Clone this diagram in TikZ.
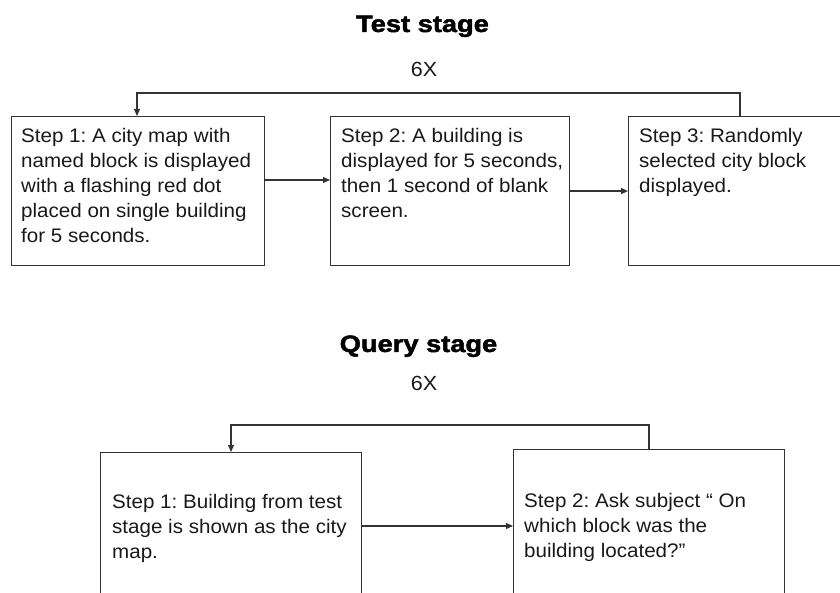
\documentclass[tikz,border=0pt]{standalone}
\usepackage{fontspec}
\setmainfont{Liberation Sans}[FakeStretch=1.05]
\newfontfamily\titlefont{Liberation Sans}[FakeStretch=1.15,FakeBold=2]
\usetikzlibrary{arrows.meta}
\tikzset{
  box/.style={draw=black!80, line width=1.1pt, anchor=north west, inner sep=0pt},
  txt/.style={anchor=base west, inner sep=0pt, font=\fontsize{19.6}{25}\selectfont, text=black!90},
  ttl/.style={anchor=base, inner sep=0pt, font=\titlefont\bfseries\fontsize{23.7}{28}\selectfont},
  rep/.style={anchor=base, inner sep=0pt, font=\fontsize{20.5}{24}\selectfont, text=black!90},
  arr/.style={draw=black!80, line width=1.1pt, -{Triangle[length=7pt,width=6pt]}}
}
\begin{document}
\frenchspacing
\begin{tikzpicture}[x=1pt,y=-1pt]
\useasboundingbox (0,0) rectangle (840,593);
\clip (0,0) rectangle (840,593);
% titles
\node[ttl] (ts) at (422.5,32) {Test stage};
\node[rep] (tn) at (424,77) {6X};
\node[ttl] (qs) at (418.5,352) {Query stage};
\node[rep] (qn) at (424,390) {6X};
% test stage boxes
\node[box, minimum width=253pt, minimum height=149pt] (t1) at (11,116) {};
\node[box, minimum width=239pt, minimum height=149pt] (t2) at (330,116) {};
\node[box, minimum width=300pt, minimum height=149pt] (t3) at (628,116) {};
\node[txt] (t1x) at (21,143) {\parbox[t]{250pt}{Step 1: A city map with\\named block is displayed\\with a flashing red dot\\placed on single building\\for 5 seconds.}};
\node[txt] (t2x) at (341,143) {\parbox[t]{240pt}{Step 2: A building is\\displayed for 5 seconds,\\then 1 second of blank\\screen.}};
\node[txt] (t3x) at (639,143) {\parbox[t]{240pt}{Step 3: Randomly\\selected city block\\displayed.}};
% query stage boxes
\node[box, minimum width=261pt, minimum height=200pt] (q1) at (100,452) {};
\node[box, minimum width=271pt, minimum height=200pt] (q2) at (513,449) {};
\node[txt] (q1x) at (112,508) {\parbox[t]{260pt}{Step 1: Building from test\\stage is shown as the city\\map.}};
\node[txt] (q2x) at (524,507) {\parbox[t]{260pt}{Step 2: Ask subject “ On\\which block was the\\building located?”}};
% connectors
\draw[arr] (t1.east |- 0,180) -- (t2.west |- 0,180);
\draw[arr] (t2.east) -- (t3.west);
\draw[arr] (t3.north -| 740,0) |- (137,93) -- (t1.north -| 137,0);
\draw[arr] (q1.east |- 0,526) -- (q2.west |- 0,526);
\draw[arr] (q2.north -| 649,0) |- (231,425) -- (q1.north -| 231,0);
\end{tikzpicture}
\end{document}
